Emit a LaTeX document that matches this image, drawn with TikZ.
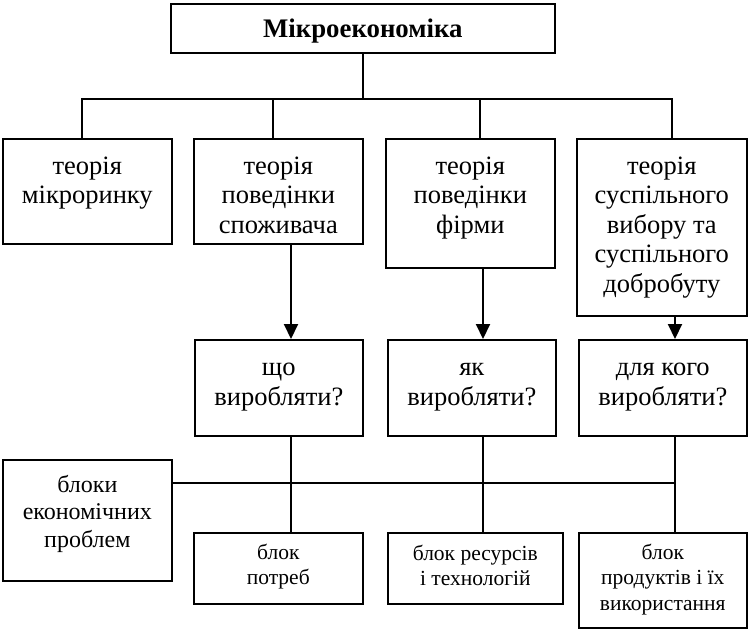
\documentclass[tikz,border=0pt]{standalone}
\usepackage{fontspec}
\setmainfont{Liberation Serif}
\usetikzlibrary{arrows.meta}
% centred lines whose baseline is the first line
\newcommand\boxlines[1]{\begin{tabular}[t]{@{}c@{}}#1\end{tabular}}
\begin{document}
\begin{tikzpicture}[x=1pt,y=-1pt,
  box/.style={draw, line width=1.6pt, rectangle, inner sep=0pt, anchor=north west},
  txt/.style={anchor=base, inner sep=0pt},
  head/.style={font=\fontsize{26.8}{30}\selectfont\bfseries},
  big/.style={font=\fontsize{26.5}{29.5}\selectfont},
  ask/.style={font=\fontsize{26.5}{30}\selectfont},
  mid/.style={font=\fontsize{24}{27.5}\selectfont},
  small/.style={font=\fontsize{21.5}{25.5}\selectfont},
  link/.style={line width=1.5pt},
  arr/.style={line width=2.1pt, -{Triangle[length=15pt,width=14pt]}}]
\useasboundingbox (0,0) rectangle (748,629);

% boxes
\node[box, minimum width=384pt, minimum height=49pt]  (top) at (170,3) {};
\node[box, minimum width=169pt, minimum height=105pt] (t1) at (2,138) {};
\node[box, minimum width=169pt, minimum height=105pt] (t2) at (193,138) {};
\node[box, minimum width=169pt, minimum height=129pt] (t3) at (385,138) {};
\node[box, minimum width=170pt, minimum height=177pt] (t4) at (576,138) {};
\node[box, minimum width=168pt, minimum height=96pt]  (q1) at (194,339) {};
\node[box, minimum width=168pt, minimum height=96pt]  (q2) at (387,339) {};
\node[box, minimum width=168pt, minimum height=96pt]  (q3) at (578,339) {};
\node[box, minimum width=169pt, minimum height=121pt] (blk) at (2,459) {};
\node[box, minimum width=169pt, minimum height=71pt]  (p1) at (193,532) {};
\node[box, minimum width=175pt, minimum height=71pt]  (p2) at (387,532) {};
\node[box, minimum width=168pt, minimum height=95pt]  (p3) at (578,532) {};

% texts
\node[txt, head] (topl) at ([yshift=-34pt]top.north) {Мікроекономіка};
\node[txt, big] (t1l) at ([yshift=-36pt]t1.north) {\boxlines{теорія\\мікроринку}};
\node[txt, big] (t2l) at ([yshift=-36pt]t2.north) {\boxlines{теорія\\поведінки\\споживача}};
\node[txt, big] (t3l) at ([yshift=-36pt]t3.north) {\boxlines{теорія\\поведінки\\фірми}};
\node[txt, big] (t4l) at ([yshift=-36pt]t4.north) {\boxlines{теорія\\суспільного\\вибору та\\суспільного\\добробуту}};
\node[txt, ask] (q1l) at ([yshift=-36pt]q1.north) {\boxlines{що\\виробляти?}};
\node[txt, ask] (q2l) at ([yshift=-36pt]q2.north) {\boxlines{як\\виробляти?}};
\node[txt, ask] (q3l) at ([yshift=-36pt]q3.north) {\boxlines{для кого\\виробляти?}};
\node[txt, mid] (blkl) at ([yshift=-33pt]blk.north) {\boxlines{блоки\\економічних\\проблем}};
\node[txt, small] (p1l) at ([yshift=-27pt]p1.north) {\boxlines{блок\\потреб}};
\node[txt, small] (p2l) at ([yshift=-28pt]p2.north) {\boxlines{блок ресурсів\\і технологій}};
\node[txt, small] (p3l) at ([yshift=-27pt]p3.north) {\boxlines{блок\\продуктів і їх\\використання}};

% tree bus under the title
\coordinate (d1) at (82,99);
\coordinate (d2) at (273,99);
\coordinate (d3) at (480,99);
\coordinate (d4) at (672,99);
\draw[link] (top.south) -- (top.south |- d1);
\draw[link] (t1.north -| d1) -- (d1) -- (d4) -- (t4.north -| d4);
\draw[link] (d2) -- (t2.north -| d2);
\draw[link] (d3) -- (t3.north -| d3);

% arrows to the questions
\coordinate (a1) at (291,0);
\coordinate (a2) at (483,0);
\coordinate (a3) at (675,0);
\draw[arr] (t2.south -| a1) -- (q1.north -| a1);
\draw[arr] (t3.south -| a2) -- (q2.north -| a2);
\draw[arr] (t4.south -| a3) -- (q3.north -| a3);

% lower connections
\coordinate (h) at (0,483);
\draw[link] (q1.south -| a1) -- (p1.north -| a1);
\draw[link] (q2.south -| a2) -- (p2.north -| a2);
\draw[link] (q3.south -| a3) -- (p3.north -| a3);
\draw[link] (blk.east |- h) -- (a3 |- h);
\end{tikzpicture}
\end{document}
